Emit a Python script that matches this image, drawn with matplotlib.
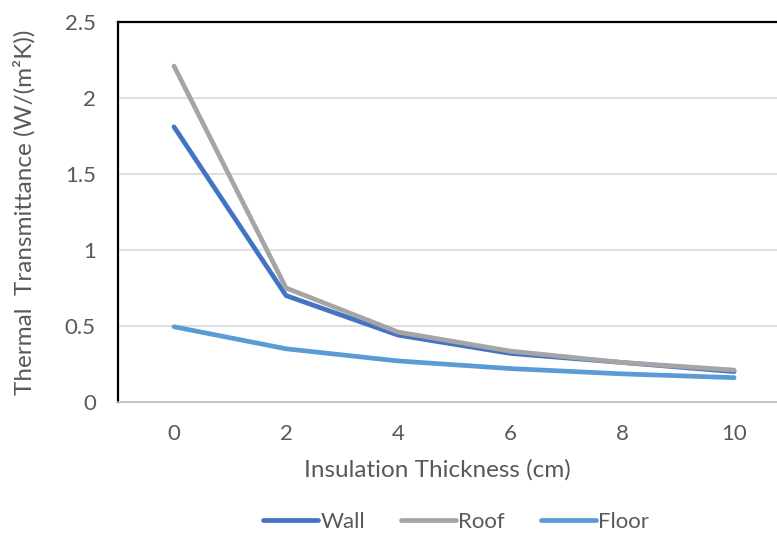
import matplotlib.pyplot as plt

thickness = [0, 2, 4, 6, 8, 10]
wall = [1.81, 0.70, 0.44, 0.32, 0.26, 0.20]
roof = [2.21, 0.75, 0.46, 0.335, 0.26, 0.21]
floor = [0.495, 0.35, 0.27, 0.22, 0.185, 0.16]

plt.rcParams['font.family'] = ['Lato', 'DejaVu Sans']
txt = '#595959'

fig = plt.figure(figsize=(7.77, 5.34), dpi=100)
ax = fig.add_axes([0.1519, 0.2472, 0.865, 0.7116])

ax.plot(thickness, wall, color='#4472C4', lw=3.4, solid_capstyle='round', label='Wall', zorder=3)
ax.plot(thickness, roof, color='#A5A5A5', lw=3.4, solid_capstyle='round', label='Roof', zorder=3)
ax.plot(thickness, floor, color='#5B9BD5', lw=3.4, solid_capstyle='round', label='Floor', zorder=3)

ax.set_xlim(-1, 11)
ax.set_ylim(0, 2.5)
ax.set_xticks(thickness)
ax.set_yticks([0, 0.5, 1, 1.5, 2, 2.5])
ax.set_yticklabels(['0', '0.5', '1', '1.5', '2', '2.5'])
ax.tick_params(length=0, labelsize=16, labelcolor=txt)
ax.tick_params(axis='x', pad=16)
ax.tick_params(axis='y', pad=16)
ax.grid(axis='y', color='#D9D9D9', lw=1.2)
ax.set_axisbelow(True)

ax.spines['left'].set_color('black')
ax.spines['left'].set_linewidth(1.6)
ax.spines['top'].set_color('black')
ax.spines['top'].set_linewidth(1.6)
ax.spines['bottom'].set_color('#BFBFBF')
ax.spines['bottom'].set_linewidth(1.2)
ax.spines['right'].set_visible(False)

ax.set_xlabel('Insulation Thickness (cm)', fontsize=17.5, color=txt)
ax.set_ylabel('Thermal  Transmittance (W/(m²K))', fontsize=17.5, color=txt)
ax.xaxis.set_label_coords(0.475, -0.149)
ax.yaxis.set_label_coords(-0.122, 0.5)

fig.legend(loc='center', bbox_to_anchor=(0.587, 0.022), ncol=3, frameon=False,
           fontsize=16, labelcolor=txt, handlelength=2.5, handletextpad=0.1,
           columnspacing=1.6)

fig.savefig('out.png', dpi=100)
